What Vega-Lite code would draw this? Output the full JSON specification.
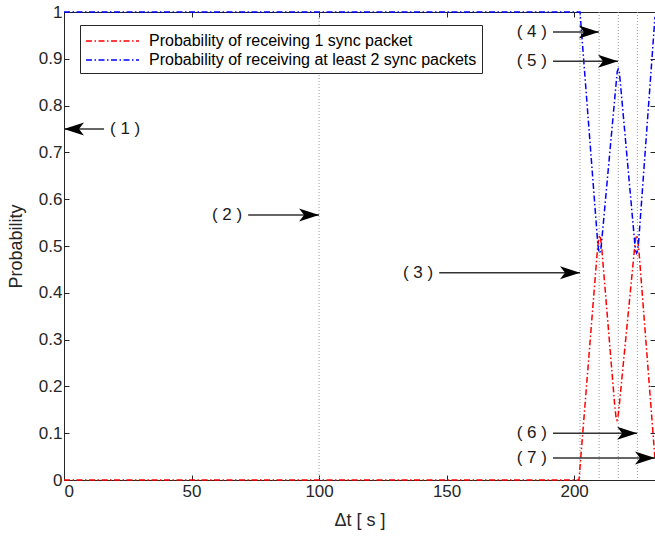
{
  "$schema": "https://vega.github.io/schema/vega-lite/v6.json",
  "width": 591,
  "height": 468,
  "autosize": {"type": "none"},
  "padding": {"left": 64, "top": 12, "right": 0, "bottom": 62},
  "background": "white",
  "config": {
    "font": "Liberation Sans",
    "view": {"stroke": "#262626", "strokeWidth": 1},
    "axis": {
      "domainColor": "#262626",
      "tickColor": "#262626",
      "labelColor": "#262626",
      "titleColor": "#262626",
      "labelFont": "Liberation Sans",
      "titleFont": "Liberation Sans",
      "labelFontSize": 17,
      "titleFontSize": 18,
      "titleFontWeight": "normal",
      "grid": false
    }
  },
  "datasets": {
    "curves": [
      {"t": 0, "p": 0, "series": "Probability of receiving 1 sync packet"},
      {"t": 201.9, "p": 0, "series": "Probability of receiving 1 sync packet"},
      {"t": 209.1, "p": 0.49, "series": "Probability of receiving 1 sync packet"},
      {"t": 209.6, "p": 0.515, "series": "Probability of receiving 1 sync packet"},
      {"t": 210.0, "p": 0.523, "series": "Probability of receiving 1 sync packet"},
      {"t": 210.4, "p": 0.515, "series": "Probability of receiving 1 sync packet"},
      {"t": 210.9, "p": 0.49, "series": "Probability of receiving 1 sync packet"},
      {"t": 215.9, "p": 0.16, "series": "Probability of receiving 1 sync packet"},
      {"t": 216.4, "p": 0.135, "series": "Probability of receiving 1 sync packet"},
      {"t": 216.8, "p": 0.128, "series": "Probability of receiving 1 sync packet"},
      {"t": 217.2, "p": 0.135, "series": "Probability of receiving 1 sync packet"},
      {"t": 217.7, "p": 0.16, "series": "Probability of receiving 1 sync packet"},
      {"t": 223.6, "p": 0.49, "series": "Probability of receiving 1 sync packet"},
      {"t": 224.1, "p": 0.515, "series": "Probability of receiving 1 sync packet"},
      {"t": 224.5, "p": 0.523, "series": "Probability of receiving 1 sync packet"},
      {"t": 224.9, "p": 0.515, "series": "Probability of receiving 1 sync packet"},
      {"t": 225.4, "p": 0.49, "series": "Probability of receiving 1 sync packet"},
      {"t": 231.7, "p": 0.045, "series": "Probability of receiving 1 sync packet"},
      {"t": 0, "p": 1, "series": "Probability of receiving at least 2 sync packets"},
      {"t": 202.3, "p": 1, "series": "Probability of receiving at least 2 sync packets"},
      {"t": 209.2, "p": 0.51, "series": "Probability of receiving at least 2 sync packets"},
      {"t": 209.6, "p": 0.49, "series": "Probability of receiving at least 2 sync packets"},
      {"t": 210.0, "p": 0.485, "series": "Probability of receiving at least 2 sync packets"},
      {"t": 210.4, "p": 0.49, "series": "Probability of receiving at least 2 sync packets"},
      {"t": 210.8, "p": 0.51, "series": "Probability of receiving at least 2 sync packets"},
      {"t": 216.5, "p": 0.85, "series": "Probability of receiving at least 2 sync packets"},
      {"t": 216.9, "p": 0.873, "series": "Probability of receiving at least 2 sync packets"},
      {"t": 217.3, "p": 0.878, "series": "Probability of receiving at least 2 sync packets"},
      {"t": 217.7, "p": 0.873, "series": "Probability of receiving at least 2 sync packets"},
      {"t": 218.1, "p": 0.85, "series": "Probability of receiving at least 2 sync packets"},
      {"t": 223.7, "p": 0.51, "series": "Probability of receiving at least 2 sync packets"},
      {"t": 224.1, "p": 0.49, "series": "Probability of receiving at least 2 sync packets"},
      {"t": 224.5, "p": 0.485, "series": "Probability of receiving at least 2 sync packets"},
      {"t": 224.9, "p": 0.49, "series": "Probability of receiving at least 2 sync packets"},
      {"t": 225.3, "p": 0.51, "series": "Probability of receiving at least 2 sync packets"},
      {"t": 231.7, "p": 0.99, "series": "Probability of receiving at least 2 sync packets"}
    ],
    "vlines": [
      {"x": 100}, {"x": 202.3}, {"x": 209.8}, {"x": 217.3}, {"x": 224.8}
    ],
    "notes": [
      {"label": "( 1 )", "tail": 15.7, "head": 0, "p": 0.75, "dir": "left"},
      {"label": "( 2 )", "tail": 72.2, "head": 100, "p": 0.566, "dir": "right"},
      {"label": "( 3 )", "tail": 147.1, "head": 202.3, "p": 0.443, "dir": "right"},
      {"label": "( 4 )", "tail": 191.7, "head": 209.7, "p": 0.957, "dir": "right"},
      {"label": "( 5 )", "tail": 191.7, "head": 217.2, "p": 0.895, "dir": "right"},
      {"label": "( 6 )", "tail": 191.7, "head": 224.7, "p": 0.1, "dir": "right"},
      {"label": "( 7 )", "tail": 191.7, "head": 231.7, "p": 0.047, "dir": "right"}
    ]
  },
  "layer": [
    {
      "data": {"name": "vlines"},
      "mark": {"type": "rule", "color": "#9a9a9a", "strokeWidth": 1, "strokeDash": [1, 2]},
      "encoding": {
        "x": {
          "field": "x", "type": "quantitative",
          "scale": {"domain": [0, 231.7], "nice": false, "zero": false},
          "axis": {
            "orient": "bottom", "title": "Δt [ s ]", "values": [0, 50, 100, 150, 200],
            "tickSize": -5, "labelPadding": 8, "titlePadding": 12, "domain": true
          }
        }
      }
    },
    {
      "data": {"name": "curves"},
      "mark": {"type": "line", "strokeWidth": 1.5, "strokeDash": [6, 2.5, 1.5, 2.5]},
      "encoding": {
        "x": {
          "field": "t", "type": "quantitative",
          "scale": {"domain": [0, 231.7], "nice": false, "zero": false},
          "axis": {"orient": "top", "labels": false, "title": null, "domain": false, "values": [0, 50, 100, 150, 200], "tickSize": -5}
        },
        "y": {
          "field": "p", "type": "quantitative",
          "scale": {"domain": [0, 1], "nice": false},
          "axis": {
            "orient": "left", "title": "Probability",
            "values": [0, 0.1, 0.2, 0.3, 0.4, 0.5, 0.6, 0.7, 0.8, 0.9, 1],
            "format": ".1~f", "tickSize": -5, "labelPadding": 7, "titlePadding": 13
          }
        },
        "color": {
          "field": "series", "type": "nominal",
          "scale": {
            "domain": ["Probability of receiving 1 sync packet", "Probability of receiving at least 2 sync packets"],
            "range": ["#ff0000", "#0000ff"]
          },
          "legend": {
            "orient": "none", "legendX": 16, "legendY": 13, "title": null,
            "symbolType": "M-1,0 L4.3,0", "symbolStrokeWidth": 1.5, "symbolDash": [6, 2.5, 1.5, 2.5],
            "symbolSize": 400, "symbolFillColor": "transparent",
            "labelFontSize": 16, "labelFont": "Liberation Sans", "labelColor": "#000000",
            "labelLimit": 600, "labelOffset": 42, "strokeColor": "#262626", "fillColor": "white",
            "padding": 5, "rowPadding": 0
          }
        }
      }
    },
    {
      "data": {"name": "notes"},
      "mark": {"type": "rule", "color": "#333333", "strokeWidth": 1.5},
      "encoding": {
        "x": {"field": "tail", "type": "quantitative", "scale": {"domain": [0, 231.7], "nice": false, "zero": false}, "axis": null},
        "x2": {"field": "head"},
        "y": {
          "field": "p", "type": "quantitative", "scale": {"domain": [0, 1], "nice": false},
          "axis": {"orient": "right", "labels": false, "title": null, "domain": false, "values": [0, 0.1, 0.2, 0.3, 0.4, 0.5, 0.6, 0.7, 0.8, 0.9, 1], "tickSize": -5}
        }
      }
    },
    {
      "data": {"name": "notes"},
      "transform": [{"filter": "datum.dir === 'right'"}],
      "mark": {"type": "point", "shape": "M0,0 L-2,-0.65 L-1.5,0 L-2,0.65 Z", "size": 400, "filled": true, "color": "#000000", "opacity": 1},
      "encoding": {
        "x": {"field": "head", "type": "quantitative", "scale": {"domain": [0, 231.7], "nice": false, "zero": false}, "axis": null},
        "y": {"field": "p", "type": "quantitative", "scale": {"domain": [0, 1], "nice": false}, "axis": null}
      }
    },
    {
      "data": {"name": "notes"},
      "transform": [{"filter": "datum.dir === 'left'"}],
      "mark": {"type": "point", "shape": "M0,0 L2,-0.65 L1.5,0 L2,0.65 Z", "size": 400, "filled": true, "color": "#000000", "opacity": 1},
      "encoding": {
        "x": {"field": "head", "type": "quantitative", "scale": {"domain": [0, 231.7], "nice": false, "zero": false}, "axis": null},
        "y": {"field": "p", "type": "quantitative", "scale": {"domain": [0, 1], "nice": false}, "axis": null}
      }
    },
    {
      "data": {"name": "notes"},
      "transform": [{"filter": "datum.dir === 'right'"}],
      "mark": {"type": "text", "align": "right", "baseline": "middle", "dx": -6, "fontSize": 17, "font": "Liberation Sans", "color": "#1a1a1a"},
      "encoding": {
        "x": {"field": "tail", "type": "quantitative", "scale": {"domain": [0, 231.7], "nice": false, "zero": false}, "axis": null},
        "y": {"field": "p", "type": "quantitative", "scale": {"domain": [0, 1], "nice": false}, "axis": null},
        "text": {"field": "label"}
      }
    },
    {
      "data": {"name": "notes"},
      "transform": [{"filter": "datum.dir === 'left'"}],
      "mark": {"type": "text", "align": "left", "baseline": "middle", "dx": 6, "fontSize": 17, "font": "Liberation Sans", "color": "#1a1a1a"},
      "encoding": {
        "x": {"field": "tail", "type": "quantitative", "scale": {"domain": [0, 231.7], "nice": false, "zero": false}, "axis": null},
        "y": {"field": "p", "type": "quantitative", "scale": {"domain": [0, 1], "nice": false}, "axis": null},
        "text": {"field": "label"}
      }
    }
  ],
  "resolve": {"axis": {"x": "independent", "y": "independent"}}
}
